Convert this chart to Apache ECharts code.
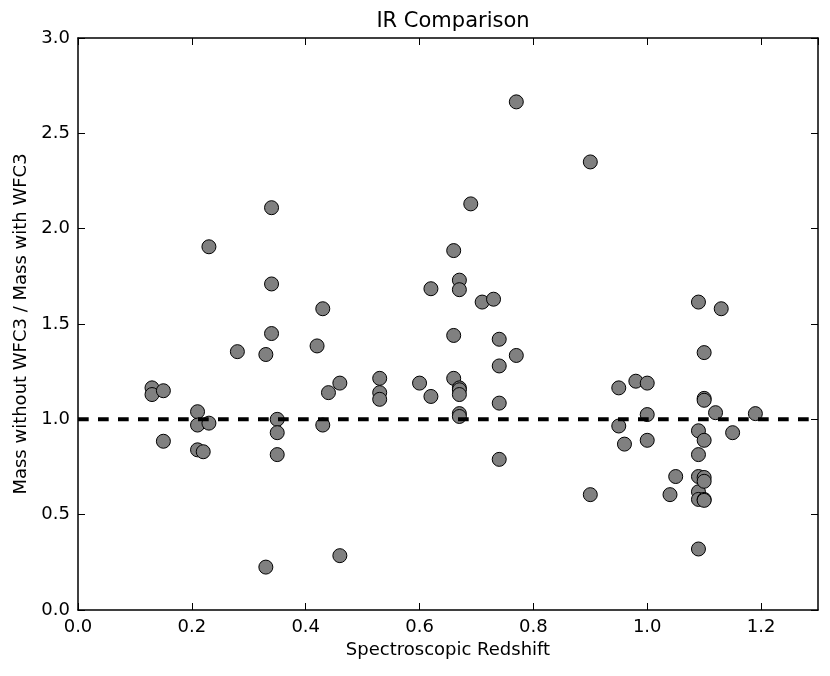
<!DOCTYPE html>
<html>
<head>
<meta charset="utf-8">
<script src="https://cdn.jsdelivr.net/npm/echarts@6/dist/echarts.min.js"></script>
<style>
html,body{margin:0;padding:0;background:#fff;}
#chart{width:830px;height:676px;}
</style>
</head>
<body>
<div id="chart"></div>
<script>
var redshift = [0.13,0.13,0.15,0.15,0.21,0.21,0.23,0.21,0.22,0.23,
  0.28,0.33,0.33,0.34,0.34,0.34,0.35,0.35,0.35,0.42,
  0.43,0.43,0.44,0.46,0.46,0.53,0.53,0.53,0.60,0.62,
  0.62,0.66,0.66,0.66,0.67,0.67,0.67,0.67,0.67,0.67,
  0.67,0.69,0.71,0.73,0.74,0.74,0.74,0.74,0.77,0.77,
  0.90,0.90,0.95,0.95,0.96,0.98,1.00,1.00,1.00,1.04,
  1.05,1.09,1.09,1.09,1.09,1.09,1.09,1.09,1.10,1.10,
  1.10,1.10,1.10,1.10,1.10,1.10,1.12,1.13,1.15,1.19];
var massRatio = [1.165,1.13,1.15,0.885,1.04,0.97,0.98,0.84,0.83,1.905,
  1.355,1.34,0.225,2.11,1.71,1.45,1.00,0.93,0.815,1.385,
  1.58,0.97,1.14,1.19,0.285,1.215,1.14,1.105,1.19,1.12,
  1.685,1.885,1.44,1.215,1.73,1.68,1.165,1.155,1.13,1.03,
  1.015,2.13,1.615,1.63,1.42,1.28,1.085,0.79,2.665,1.335,
  2.35,0.605,1.165,0.965,0.87,1.20,1.19,1.025,0.89,0.605,
  0.70,1.615,0.94,0.815,0.70,0.62,0.58,0.32,1.35,1.11,
  1.10,0.89,0.695,0.675,0.58,0.575,1.035,1.58,0.93,1.03];
var refLineX = [0.0, 1.3];
var refLineY = [1.0, 1.0];

var points = redshift.map(function(z, i){ return [z, massRatio[i]]; });
var refLine = refLineX.map(function(x, i){ return [x, refLineY[i]]; });

var FONT = 'DejaVu Sans';
var fmt = function(v){ return (+v).toFixed(1); };

function xAx(pos, show){
  return {
    type:'value', position:pos, min:0, max:1.3, interval:0.2,
    name: show ? 'Spectroscopic Redshift' : '', nameLocation:'middle', nameGap:31,
    nameTextStyle:{fontFamily:FONT, fontSize:18, color:'#000'},
    axisLine:{show:true, onZero:false, lineStyle:{color:'#000', width:1.5}},
    axisTick:{show:true, inside:true, length:7, lineStyle:{color:'#000', width:1}},
    axisLabel:{show:show, formatter:fmt, showMaxLabel:false, margin:8,
      fontFamily:FONT, fontSize:18, color:'#000'},
    splitLine:{show:false}
  };
}
function yAx(pos, show){
  return {
    type:'value', position:pos, min:0, max:3, interval:0.5,
    name: show ? 'Mass without WFC3 / Mass with WFC3' : '', nameLocation:'middle', nameGap:47,
    nameTextStyle:{fontFamily:FONT, fontSize:18, color:'#000'},
    axisLine:{show:true, onZero:false, lineStyle:{color:'#000', width:1.5}},
    axisTick:{show:true, inside:true, length:7, lineStyle:{color:'#000', width:1}},
    axisLabel:{show:show, formatter:fmt, margin:8,
      fontFamily:FONT, fontSize:18, color:'#000'},
    splitLine:{show:false}
  };
}

var chart = echarts.init(document.getElementById('chart'), null, {renderer:'canvas'});
chart.setOption({
  animation:false,
  backgroundColor:'#fff',
  title:{text:'IR Comparison', left:448, textAlign:'center', top:6,
    textStyle:{fontFamily:FONT, fontSize:21, fontWeight:'normal', color:'#000'}},
  grid:{left:78, right:12, top:38, bottom:66, containLabel:false},
  xAxis:[xAx('bottom', true), xAx('top', false)],
  yAxis:[yAx('left', true), yAx('right', false)],
  series:[
    {type:'scatter', xAxisIndex:0, yAxisIndex:0, data:points, symbol:'circle', symbolSize:14,
      itemStyle:{color:'#808080', borderColor:'#000', borderWidth:1, opacity:1}, z:2},
    {type:'line', xAxisIndex:0, yAxisIndex:0, data:refLine, symbol:'none', silent:true,
      lineStyle:{color:'#000', width:4, type:[10.7,9.3], cap:'butt'}, z:5}
  ]
});
</script>
</body>
</html>
